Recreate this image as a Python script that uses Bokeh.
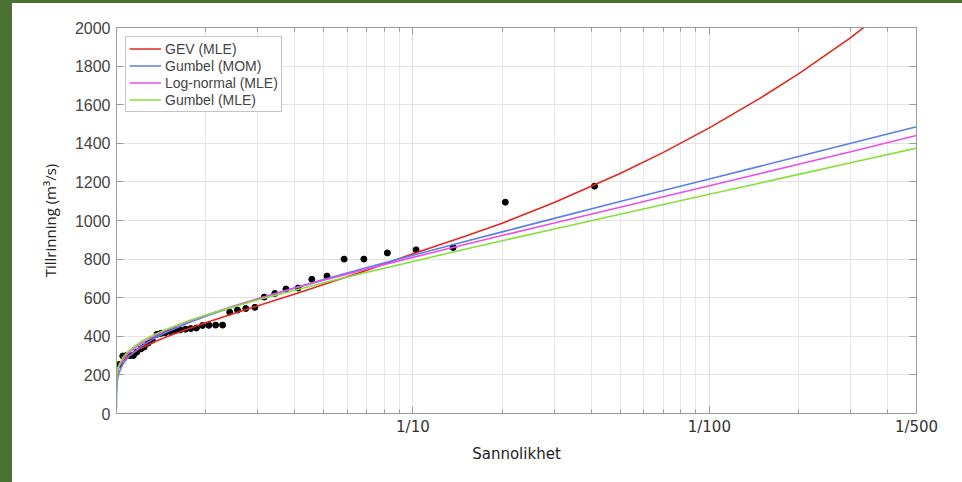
from bokeh.plotting import figure
from bokeh.models import (FixedTicker, LogAxis, LinearAxis, Legend, LegendItem,
                          SingleIntervalTicker, Range1d, CustomJSTickFormatter)
from bokeh.embed import file_html
from bokeh.resources import INLINE

# ---------------- data ----------------
# return period T (1/probability) at which the fitted curves are sampled
curve_T = [1.00001, 1.0001, 1.001, 1.005, 1.01, 1.02, 1.05, 1.1, 1.2, 1.35, 1.5,
           1.75, 2, 2.5, 3, 4, 5, 7, 10, 15, 20, 30, 50, 70, 100, 150, 200, 300, 500]
gev_mle = [136, 156, 183, 210, 225, 242, 271, 299, 336, 373, 402, 439, 470, 519,
           558, 619, 668, 742, 828, 918, 986, 1093, 1244, 1353, 1480, 1638, 1760, 1948, 2212]
gumbel_mom = [32, 69, 117, 162, 185, 212, 255, 295, 344, 392, 426, 470, 504, 555,
              594, 651, 694, 756, 820, 891, 941, 1011, 1098, 1155, 1215, 1283, 1332, 1400, 1486]
lognormal_mle = [109, 133, 167, 201, 220, 242, 279, 314, 359, 403, 436, 477, 509, 558,
                 595, 650, 690, 749, 809, 876, 922, 987, 1069, 1123, 1180, 1245, 1291, 1356, 1440]
gumbel_mle = [93, 126, 169, 208, 229, 252, 290, 326, 369, 411, 441, 480, 509, 554,
              589, 639, 677, 732, 788, 851, 895, 956, 1032, 1083, 1136, 1196, 1239, 1299, 1375]

# observed annual maxima (plotting positions as return periods)
obs_T = [41.0, 20.5, 13.67, 10.25, 8.2, 6.83, 5.86, 5.13, 4.56, 4.1, 3.73, 3.42, 3.15,
         2.93, 2.73, 2.56, 2.41, 2.28, 2.16, 2.05, 1.95, 1.86, 1.78, 1.71, 1.64, 1.58,
         1.52, 1.46, 1.41, 1.37, 1.32, 1.28, 1.24, 1.21, 1.17, 1.14, 1.11, 1.08, 1.05, 1.025]
obs_Q = [1178, 1095, 860, 848, 832, 800, 800, 712, 695, 650, 645, 622, 603, 550, 544,
         536, 525, 458, 458, 457, 456, 443, 440, 437, 433, 430, 425, 418, 415, 410,
         380, 365, 345, 335, 318, 300, 300, 300, 298, 255]

x_major = [10, 100, 500]
x_labels = ["1/10", "1/100", "1/500"]
x_minor = [2, 3, 4, 5, 6, 7, 8, 9, 20, 30, 40, 50, 60, 70, 80, 90, 200, 300, 400]

series_names = ["GEV (MLE)", "Gumbel (MOM)", "Log-normal (MLE)", "Gumbel (MLE)"]
series_vals = [gev_mle, gumbel_mom, lognormal_mle, gumbel_mle]
series_colors = ["#e3261f", "#5a7fe6", "#ea4fe8", "#84e03a"]

# ---------------- figure ----------------
p = figure(width=962, height=482, x_axis_type="log",
           x_range=Range1d(1, 500), y_range=Range1d(0, 2000),
           output_backend="svg", toolbar_location=None,
           min_border_left=116, min_border_right=46, min_border_top=27, min_border_bottom=69,
           background_fill_color="white", border_fill_color="white", border_fill_alpha=0)
# green edge strips (left and top) of the reference image
p.styles = {"box-shadow": "inset 12px 3px 0 0 #4b7132", "background-color": "white"}

axis_col = "#9a9a9a"
grid_col = "#e6e6e6"
p.outline_line_color = axis_col

xticker = FixedTicker(ticks=x_major, minor_ticks=x_minor)
yticker = SingleIntervalTicker(interval=200, num_minor_ticks=0)

xa = p.xaxis[0]
xa.ticker = xticker
xa.major_label_overrides = dict(zip(x_major, x_labels))
xa.axis_label = "Sannolikhet"
xa.axis_label_text_font = "DejaVu Sans"
xa.axis_label_text_font_size = "15px"
xa.axis_label_text_font_style = "normal"
xa.axis_label_text_color = "#222222"
xa.axis_label_standoff = 6
xa.major_label_text_font = "DejaVu Sans"
xa.major_label_text_font_size = "15px"
xa.major_label_text_color = "#333333"
xa.major_label_standoff = 4

ya = p.yaxis[0]
ya.ticker = yticker
ya.axis_label = "Tillrinning (m³/s)"
ya.axis_label_text_font = "Open Sans"
ya.axis_label_text_font_size = "15px"
ya.axis_label_text_font_style = "normal"
ya.axis_label_text_color = "#222222"
ya.axis_label_standoff = 12
ya.major_label_text_font = "Liberation Sans"
ya.major_label_text_font_size = "16px"
ya.major_label_text_color = "#444444"
ya.major_label_standoff = 6

for ax in (xa, ya):
    ax.axis_line_color = axis_col
    ax.major_tick_line_color = axis_col
    ax.minor_tick_line_color = axis_col
    ax.major_tick_in = 7
    ax.major_tick_out = 0
    ax.minor_tick_in = 4
    ax.minor_tick_out = 0

blank = CustomJSTickFormatter(code="return ''")
top = LogAxis(ticker=xticker, formatter=blank, major_label_text_font_size="1px",
              major_label_standoff=0)
right = LinearAxis(ticker=yticker, formatter=blank, major_label_text_font_size="1px",
                   major_label_standoff=0)
for ax in (top, right):
    ax.axis_line_color = axis_col
    ax.major_tick_line_color = axis_col
    ax.minor_tick_line_color = axis_col
    ax.major_tick_in = 7
    ax.major_tick_out = 0
    ax.minor_tick_in = 4
    ax.minor_tick_out = 0
p.add_layout(top, "above")
p.add_layout(right, "right")

p.xgrid.ticker = xticker
p.xgrid.grid_line_color = "#dedede"
p.xgrid.minor_grid_line_color = grid_col
p.ygrid.ticker = yticker
p.ygrid.grid_line_color = "#e3e3e3"

# observations
p.scatter(obs_T, obs_Q, size=6, color="black", marker="circle")

items = []
for name, vals, col in zip(series_names, series_vals, series_colors):
    r = p.line(curve_T, vals, line_color=col, line_width=1.6)
    items.append(LegendItem(label=name, renderers=[r]))

legend = Legend(items=items, location="top_left", margin=9, padding=3, spacing=0,
                label_height=17, glyph_height=17, glyph_width=32, label_standoff=4,
                label_text_font="Liberation Sans", label_text_font_size="14px",
                border_line_color="#8a8a8a", background_fill_alpha=1.0)
p.add_layout(legend)

open("out.html", "w").write(file_html(p, INLINE))
